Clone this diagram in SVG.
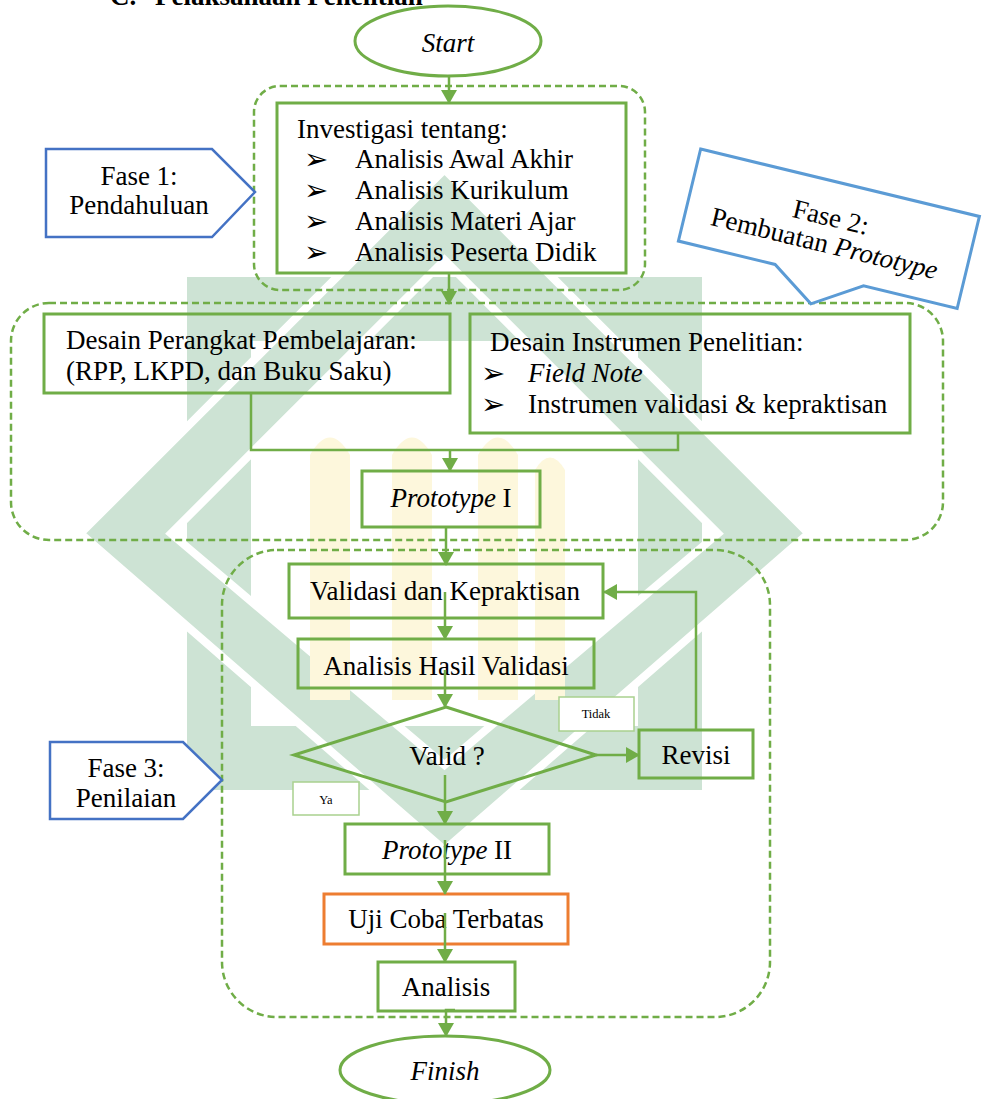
<svg xmlns="http://www.w3.org/2000/svg" width="986" height="1099" viewBox="0 0 986 1099">
<defs>
<style>
.t{font-family:"Liberation Serif","Times New Roman",serif;font-size:27px;fill:#000}
.c{text-anchor:middle}
.i{font-style:italic}
.bu{font-family:"DejaVu Sans",sans-serif;font-size:29px;fill:#000}
.sm{font-family:"Liberation Serif","Times New Roman",serif;font-size:12.5px;text-anchor:middle;fill:#000}
.box{fill:none;stroke:#70AD47;stroke-width:3}
.ell{fill:#fff;stroke:#70AD47;stroke-width:3}
.open{fill:none;stroke:#70AD47;stroke-width:3}
.grp{fill:none;stroke:#70AD47;stroke-width:2.5;stroke-dasharray:7 4}
.call1{fill:#fff;stroke:#4472C4;stroke-width:2.5}
.call2{fill:#fff;stroke:#5B9BD5;stroke-width:3}
.lbl{fill:#fff;stroke:#A9D18E;stroke-width:1.5}
.con{fill:none;stroke:#70AD47;stroke-width:2.5}
.arr{marker-end:url(#ah)}
.wm{fill:#cde3d4}
.wy{fill:#fdf7dc}
</style>
<marker id="ah" markerWidth="14" markerHeight="16" refX="13" refY="8" orient="auto" markerUnits="userSpaceOnUse"><path d="M0,0 L14,8 L0,16 z" fill="#70AD47"/></marker>
</defs>
<rect width="986" height="1099" fill="#fff"/>
<g id="watermark">
<path class="wm" fill-rule="evenodd" d="M187,277H702V790H187Z M251,341V726H638V341Z"/>
<path class="wm" fill-rule="evenodd" stroke="#fff" stroke-width="8" d="M444.5,169.5L808.5,533.5L444.5,850L80.5,533.5Z M444.5,260L171,533.5L444.5,765L718,533.5Z"/>
<path class="wy" d="M310,700V455Q330,420 350,455V700Z"/>
<path class="wy" d="M392,700V455Q412,420 432,455V700Z"/>
<path class="wy" d="M478,700V455Q498,420 518,455V700Z"/>
<path class="wy" d="M535,700V470Q550,445 565,470V700Z"/>
</g>
<g id="header">
<text class="t" x="110" y="5" font-weight="bold">C.</text>
<text class="t" x="155" y="5" font-weight="bold">Pelaksanaan Penelitian</text>
</g>
<g id="groups">
<rect id="grp-fase1" class="grp" x="254" y="86" width="391" height="204" rx="26"/>
<rect id="grp-fase2" class="grp" x="11" y="303" width="932" height="237" rx="38"/>
<rect id="grp-fase3" class="grp" x="222" y="550" width="548" height="467" rx="55"/>
</g>
<g id="start">
<ellipse cx="448" cy="41" rx="93" ry="35" class="ell"/>
<text class="t c i" x="448" y="52">Start</text>
</g>
<g id="investigasi">
<rect class="box" x="277" y="103" width="349" height="170"/>
<text class="t" x="297" y="138">Investigasi tentang:</text>
<text class="bu" x="304" y="169">➢</text><text class="t" x="355" y="168">Analisis Awal Akhir</text>
<text class="bu" x="304" y="200">➢</text><text class="t" x="355" y="199">Analisis Kurikulum</text>
<text class="bu" x="304" y="231">➢</text><text class="t" x="355" y="230">Analisis Materi Ajar</text>
<text class="bu" x="304" y="262">➢</text><text class="t" x="355" y="261">Analisis Peserta Didik</text>
</g>
<g id="fase1">
<path class="call1" d="M46,149H212L255,192L212,237H46Z"/>
<text class="t c" x="139" y="185">Fase 1:</text>
<text class="t c" x="139" y="214">Pendahuluan</text>
</g>
<g id="fase2" transform="rotate(13.6 828.9 228.75)">
<path class="call2" d="M685.5,181.4H972.3V276.1H876L829,306L785,276.1H685.5Z"/>
<text class="t c" x="828" y="226">Fase 2:</text>
<text class="t c" x="828" y="253">Pembuatan <tspan class="i">Prototype</tspan></text>
</g>
<g id="desain-perangkat">
<rect class="box" x="44" y="314" width="406" height="79"/>
<text class="t" x="66" y="349">Desain Perangkat Pembelajaran:</text>
<text class="t" x="66" y="380">(RPP, LKPD, dan Buku Saku)</text>
</g>
<g id="desain-instrumen">
<rect class="box" x="470" y="314" width="440" height="119"/>
<text class="t" x="490" y="351">Desain Instrumen Penelitian:</text>
<text class="bu" x="481" y="383">➢</text><text class="t i" x="528" y="382">Field Note</text>
<text class="bu" x="481" y="414">➢</text><text class="t" x="528" y="413">Instrumen validasi &amp; kepraktisan</text>
</g>
<g id="prototype1">
<rect class="box" x="362" y="471" width="178" height="56"/>
<text class="t c" x="451" y="507"><tspan class="i">Prototype</tspan> I</text>
</g>
<g id="validasi">
<rect class="box" x="289" y="564" width="314" height="54"/>
<text class="t c" x="445" y="600">Validasi dan Kepraktisan</text>
</g>
<g id="analisis-hasil">
<rect class="box" x="298" y="639" width="296" height="49"/>
<text class="t c" x="446" y="675">Analisis Hasil Validasi</text>
</g>
<g id="valid">
<path class="open" d="M446,707L596,755L446,802L294,755Z"/>
<text class="t c" x="447" y="765">Valid ?</text>
</g>
<g id="tidak">
<rect class="lbl" x="559" y="697" width="75" height="34"/>
<text class="sm" x="596" y="718">Tidak</text>
</g>
<g id="ya">
<rect class="lbl" x="293" y="782" width="66" height="33"/>
<text class="sm" x="326" y="804">Ya</text>
</g>
<g id="revisi">
<rect class="box" x="639" y="730" width="114" height="48"/>
<text class="t c" x="696" y="764">Revisi</text>
</g>
<g id="fase3">
<path class="call1" d="M50,742H183L222,780L183,819H50Z"/>
<text class="t c" x="126" y="777">Fase 3:</text>
<text class="t c" x="126" y="807">Penilaian</text>
</g>
<g id="prototype2">
<rect class="box" x="345" y="824" width="204" height="50"/>
<text class="t c" x="447" y="859"><tspan class="i">Prototype</tspan> II</text>
</g>
<g id="uji-coba">
<rect x="324" y="894" width="244" height="50" fill="none" stroke="#ED7D31" stroke-width="3"/>
<text class="t c" x="446" y="928">Uji Coba Terbatas</text>
</g>
<g id="analisis">
<rect class="box" x="378" y="962" width="137" height="49"/>
<text class="t c" x="446" y="996">Analisis</text>
</g>
<g id="finish">
<ellipse cx="445" cy="1070" rx="105" ry="34" class="ell"/>
<text class="t c i" x="445" y="1080">Finish</text>
</g>
<g id="connectors">
<path class="con arr" d="M449,76V103"/>
<path class="con arr" d="M449,273V304"/>
<path class="con" d="M251,393V450H678V433"/>
<path class="con arr" d="M450,450V471"/>
<path class="con arr" d="M446,527V565"/>
<path class="con arr" d="M445,592V639"/>
<path class="con arr" d="M445,670V707"/>
<path class="con arr" d="M596,755H639"/>
<path class="con arr" d="M696,730V592H604"/>
<path class="con arr" d="M445,775V824"/>
<path class="con arr" d="M445,840V894"/>
<path class="con arr" d="M445,913V962"/>
<path class="con arr" d="M455,1010H446V1036"/>
</g>
</svg>
